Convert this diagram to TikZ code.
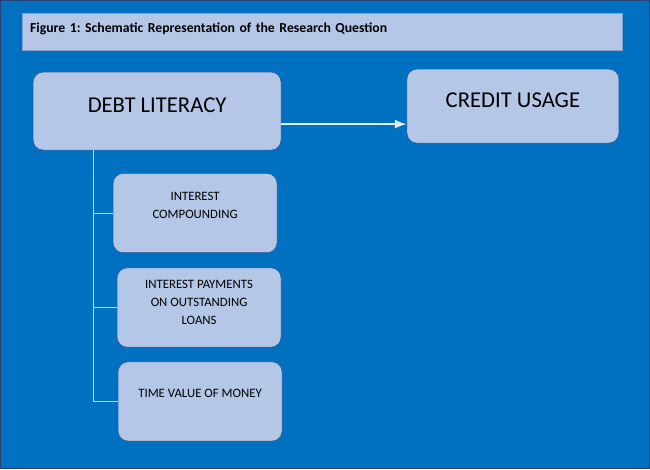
\documentclass[tikz,border=0pt]{standalone}
\usepackage{fontspec}
\setmainfont{Carlito}
\usepackage{xcolor}
\usetikzlibrary{arrows.meta,positioning,calc}
\frenchspacing

\definecolor{bgblue}{HTML}{0070C0}
\definecolor{boxfill}{HTML}{B4C7E7}
\definecolor{boxline}{HTML}{2F5597}
\definecolor{linklight}{HTML}{BDD7EE}

\begin{document}
\begin{tikzpicture}[x=0.75pt, y=-0.75pt, >=Latex,
  mainbox/.style={draw=boxline, fill=boxfill, rounded corners=7.5pt, align=center,
    minimum width=#1, font=\fontsize{17}{20}\selectfont, text depth=9pt},
  subbox/.style={draw=boxline, fill=boxfill, rounded corners=7.5pt, align=center,
    minimum width=123pt, minimum height=59.5pt, font=\fontsize{9.6}{13.5}\selectfont},
  branch/.style={draw=linklight, line width=0.8pt},
  arr/.style={->, draw=white!88!bgblue, line width=1.3pt}]
  % background and frame
  \fill[bgblue, draw=boxline!80!black, line width=1pt] (0.5,0.5) rectangle (649.5,468.5);
  \node[draw=boxline!35!boxfill, fill=boxfill, minimum width=450pt, minimum height=27.75pt,
    text width=438pt, align=left, font=\bfseries\fontsize{10.3}{12}\selectfont, text depth=6pt]
    (title) at (322,31.5) {Figure 1: Schematic Representation of the Research Question};
  % main concepts
  \node[mainbox=186pt, minimum height=58.5pt] (debt) at (157,111) {DEBT LITERACY};
  \node[mainbox=159pt, minimum height=55.5pt] (credit) at (513,106) {CREDIT USAGE};
  % dimensions of debt literacy
  \node[subbox] (compound) at (195,213) {INTEREST\\COMPOUNDING\\[-2pt]};
  \node[subbox] (payments) at (199,307.5) {INTEREST PAYMENTS\\ON OUTSTANDING\\LOANS\\[-6pt]};
  \node[subbox] (timevalue) at (200,401.5) {TIME VALUE OF MONEY\\[-2pt]};
  \draw[arr] ([yshift=-9.75pt]debt.east) -- ([yshift=-9.75pt]debt.east -| credit.west);
  \foreach \s in {compound,payments,timevalue}{
    \draw[branch] ([xshift=45.75pt]debt.south west) |- (\s.west);}
\end{tikzpicture}
\end{document}
